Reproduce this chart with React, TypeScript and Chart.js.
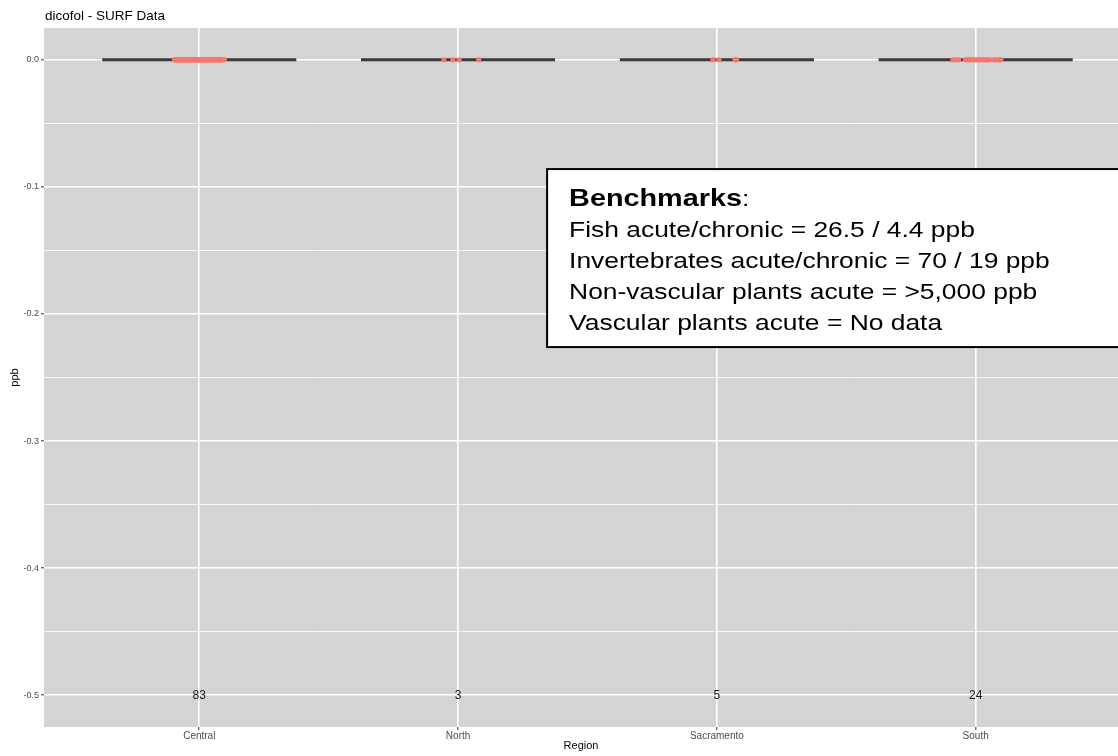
import React, { useEffect, useRef } from "react";
import { Chart, registerables } from "chart.js";

Chart.register(...registerables);

// ---- data ----
const regions = ["Central", "North", "Sacramento", "South"];
const sampleCounts = [83, 3, 5, 24];
const regionMedians = [0, 0, 0, 0]; // ppb (all samples at 0)
const yTicks = [-0.5, -0.45, -0.4, -0.35, -0.3, -0.25, -0.2, -0.15, -0.1, -0.05, 0];
const yMajorTicks = [-0.5, -0.4, -0.3, -0.2, -0.1, 0];

// jittered horizontal offsets (category units) of the plotted samples
const centralJitter = [
  -0.096, -0.094, -0.091, -0.089, -0.087, -0.085, -0.082, -0.08, -0.078, -0.076,
  -0.073, -0.071, -0.069, -0.066, -0.064, -0.062, -0.06, -0.057, -0.055, -0.053,
  -0.051, -0.048, -0.046, -0.044, -0.041, -0.039, -0.037, -0.035, -0.032, -0.03,
  -0.028, -0.026, -0.023, -0.021, -0.019, -0.016, -0.014, -0.012, -0.01, -0.007,
  -0.005, -0.003, 0.0, 0.002, 0.004, 0.007, 0.009, 0.011, 0.014, 0.016,
  0.018, 0.02, 0.023, 0.025, 0.027, 0.03, 0.032, 0.034, 0.036, 0.039,
  0.041, 0.043, 0.046, 0.048, 0.05, 0.052, 0.055, 0.057, 0.059, 0.062,
  0.064, 0.066, 0.068, 0.071, 0.073, 0.075, 0.078, 0.08, 0.082, 0.084,
  0.087, 0.091, 0.097,
];
const northJitter = [-0.055, -0.02, 0.004, 0.08];
const sacramentoJitter = [-0.015, 0.008, 0.07, 0.073, 0.076];
const southJitter = [
  -0.088, -0.079, -0.066, -0.04, -0.033, -0.027, -0.02, -0.014, -0.008, -0.002,
  0.004, 0.01, 0.016, 0.022, 0.028, 0.034, 0.04, 0.047, 0.055, 0.07,
  0.078, 0.088, 0.094, 0.098,
];
const regionJitter = [centralJitter, northJitter, sacramentoJitter, southJitter];

const titleText = "dicofol - SURF Data";
const benchmarkTitle = "Benchmarks";
const benchmarkLines = [
  "Fish acute/chronic = 26.5 / 4.4 ppb",
  "Invertebrates acute/chronic = 70 / 19 ppb",
  "Non-vascular plants acute = >5,000 ppb",
  "Vascular plants acute = No data",
];

const FONT = "'Liberation Sans', Arial, Helvetica, sans-serif";
const PANEL_BG = "#D4D4D4";
const POINT_COLOR = "#F8766D";
const BOX_COLOR = "#3A3A3A";
const BOX_HALF = 0.375;

const isMajor = (v: number) => yMajorTicks.some((m) => Math.abs(m - v) < 1e-9);

export default function App() {
  const canvasRef = useRef<HTMLCanvasElement | null>(null);

  useEffect(() => {
    if (!canvasRef.current) return;

    const boxDatasets = regions.map((r, i) => ({
      type: "line" as const,
      label: r + " box",
      data: [
        { x: i - BOX_HALF, y: regionMedians[i] },
        { x: i + BOX_HALF, y: regionMedians[i] },
      ],
      borderColor: BOX_COLOR,
      borderWidth: 3,
      pointRadius: 0,
      showLine: true,
      fill: false,
      order: 2,
    }));

    const pointData: { x: number; y: number }[] = [];
    regionJitter.forEach((arr, i) => {
      arr.forEach((j) => pointData.push({ x: i + j, y: regionMedians[i] }));
    });

    const bgPlugin = {
      id: "panelBg",
      beforeDraw(chart: any) {
        const { ctx, chartArea } = chart;
        ctx.save();
        ctx.fillStyle = PANEL_BG;
        ctx.fillRect(chartArea.left, chartArea.top, chartArea.right - chartArea.left, chartArea.bottom - chartArea.top);
        ctx.restore();
      },
    };

    const overlayPlugin = {
      id: "overlay",
      afterDraw(chart: any) {
        const { ctx, scales } = chart;
        const xs = scales.x;
        const ys = scales.y;
        ctx.save();
        // title
        ctx.fillStyle = "#000";
        ctx.font = `13.5px ${FONT}`;
        ctx.textAlign = "left";
        ctx.textBaseline = "alphabetic";
        ctx.fillText(titleText, 45, 20);

        // counts
        ctx.font = `12px ${FONT}`;
        ctx.fillStyle = "#1A1A1A";
        ctx.textAlign = "center";
        ctx.textBaseline = "middle";
        sampleCounts.forEach((n, i) => {
          ctx.fillText(String(n), xs.getPixelForValue(i), ys.getPixelForValue(-0.5));
        });

        // benchmark box
        const bx = xs.getPixelForValue(1.344);
        const by = ys.getPixelForValue(-0.086);
        const bw = 620;
        const bh = 178;
        ctx.fillStyle = "#FFFFFF";
        ctx.fillRect(bx, by, bw, bh);
        ctx.strokeStyle = "#000";
        ctx.lineWidth = 2;
        ctx.strokeRect(bx, by, bw, bh);

        ctx.textAlign = "left";
        ctx.textBaseline = "alphabetic";
        ctx.fillStyle = "#000";
        const tx = bx + 22;
        const sx = 1.2; // the annotation text is rendered wide in the reference
        ctx.save();
        ctx.translate(tx, by);
        ctx.scale(sx, 1);
        ctx.font = `bold 24px ${FONT}`;
        ctx.fillText(benchmarkTitle, 0, 37);
        const w = ctx.measureText(benchmarkTitle).width;
        ctx.font = `22px ${FONT}`;
        ctx.fillText(":", w, 37);
        benchmarkLines.forEach((line, k) => {
          ctx.fillText(line, 0, 68 + k * 31);
        });
        ctx.restore();
        ctx.restore();
      },
    };

    const chart = new Chart(canvasRef.current, {
      type: "scatter",
      data: {
        datasets: [
          {
            type: "scatter" as const,
            label: "samples",
            data: pointData,
            backgroundColor: POINT_COLOR,
            borderWidth: 0,
            pointRadius: 2.6,
            order: 1,
          },
          ...boxDatasets,
        ] as any,
      },
      options: {
        animation: false,
        responsive: false,
        maintainAspectRatio: false,
        layout: { autoPadding: false, padding: { top: 28, left: 0, right: 0, bottom: 0 } },
        plugins: {
          legend: { display: false },
          tooltip: { enabled: false },
          title: { display: false },
        },
        scales: {
          x: {
            type: "linear",
            min: -0.6,
            max: 3.55,
            afterBuildTicks: (scale: any) => {
              scale.ticks = regions.map((_, i) => ({ value: i }));
            },
            afterFit: (scale: any) => {
              scale.height = 29;
              scale.paddingLeft = 0;
              scale.paddingRight = 0;
            },
            border: { display: false },
            grid: {
              color: "#FFFFFF",
              lineWidth: 1.6,
              tickColor: "#333333",
              tickLength: 3,
              tickWidth: 1,
            },
            ticks: {
              autoSkip: false,
              maxRotation: 0,
              padding: 0,
              color: "#4D4D4D",
              font: { family: FONT, size: 10 },
              callback: (v: any) => regions[Math.round(Number(v))] ?? "",
            },
            title: {
              display: true,
              text: "Region",
              color: "#000",
              font: { family: FONT, size: 11 },
              padding: { top: 0, bottom: 3 },
            },
          },
          y: {
            type: "linear",
            min: -0.525,
            max: 0.025,
            afterBuildTicks: (scale: any) => {
              scale.ticks = yTicks.map((v) => ({ value: v }));
            },
            afterFit: (scale: any) => {
              scale.width = 44;
              scale.paddingTop = 0;
              scale.paddingBottom = 0;
            },
            border: { display: false },
            grid: {
              color: "#FFFFFF",
              lineWidth: (ctx: any) => (ctx.tick && isMajor(ctx.tick.value) ? 1.6 : 0.8),
              tickColor: (ctx: any) => (ctx.tick && isMajor(ctx.tick.value) ? "#333333" : "rgba(0,0,0,0)"),
              tickLength: 3,
              tickWidth: 1,
            },
            ticks: {
              autoSkip: false,
              padding: 2,
              color: "#4D4D4D",
              font: { family: FONT, size: 9 },
              callback: (v: any) => (isMajor(Number(v)) ? Number(v).toFixed(1) : ""),
            },
            title: {
              display: true,
              text: "ppb",
              color: "#000",
              font: { family: FONT, size: 11 },
              padding: { top: 8, bottom: 0 },
            },
          },
        },
      } as any,
      plugins: [bgPlugin, overlayPlugin],
    });

    return () => chart.destroy();
  }, []);

  return (
    <div style={{ position: "absolute", left: 0, top: 0, width: 1118, height: 756, background: "#fff" }}>
      <canvas ref={canvasRef} width={1118} height={756} style={{ width: 1118, height: 756, display: "block" }} />
    </div>
  );
}
